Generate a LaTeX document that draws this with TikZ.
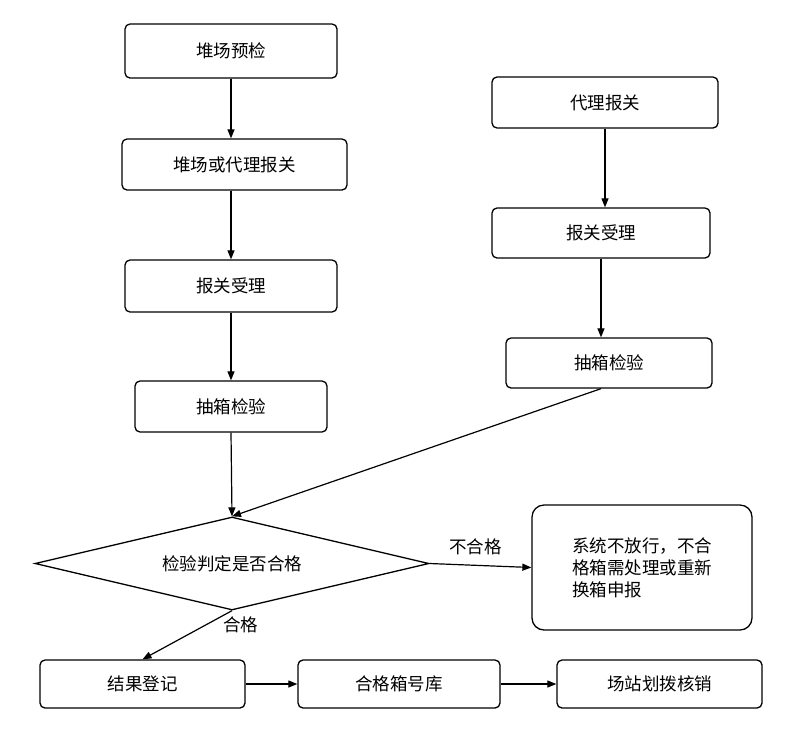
\documentclass[tikz,border=0pt]{standalone}
\usepackage{fontspec}
\newfontfamily\cjk{Noto Sans CJK SC}
\usetikzlibrary{shapes.geometric,arrows.meta}
\begin{document}
\begin{tikzpicture}[x=1pt,y=-1pt,
  box/.style={draw,line width=1.3pt,rounded corners=5pt,inner sep=0pt,font=\cjk\fontsize{17.5}{22}\selectfont},
  arr/.style={-{Triangle[length=9pt,width=7pt]},line width=1.2pt},
  lbl/.style={font=\cjk\fontsize{17.5}{22}\selectfont}]
\useasboundingbox (0,0) rectangle (799,748);
\node[box,minimum width=212,minimum height=54] (a1) at (231,51) {堆场预检};
\node[box,minimum width=225,minimum height=51] (a2) at (234.5,164.5) {堆场或代理报关};
\node[box,minimum width=212,minimum height=52] (a3) at (231,286) {报关受理};
\node[box,minimum width=192,minimum height=51] (a4) at (231,406.5) {抽箱检验};
\node[box,minimum width=226,minimum height=51] (b1) at (605,102.5) {代理报关};
\node[box,minimum width=218,minimum height=50] (b2) at (601,233) {报关受理};
\node[box,minimum width=206,minimum height=50] (b3) at (609,363) {抽箱检验};
\node[draw,line width=1.3pt,diamond,aspect=4.24,minimum width=394,minimum height=93,inner sep=0pt,font=\cjk\fontsize{17.5}{22}\selectfont] (d) at (232,563.5) {检验判定是否合格};
\node[box,rounded corners=12pt,minimum width=220,minimum height=125,align=left] (r) at (642,567.5) {系统不放行，不合\\格箱需处理或重新\\换箱申报};
\node[box,minimum width=205,minimum height=48] (c1) at (142.5,684) {结果登记};
\node[box,minimum width=202,minimum height=48] (c2) at (399,684) {合格箱号库};
\node[box,minimum width=205,minimum height=48] (c3) at (659.5,684) {场站划拨核销};
\draw[arr] (a1.south) -- (a1.south |- a2.north);
\draw[arr] (a2.south -| a3) -- (a3);
\draw[arr] (a3) -- (a4);
\draw[arr] (a4.south) -- (d.north);
\draw[arr] (b1.south) -- (b1.south |- b2.north);
\draw[arr] (b2.south) -- (b2.south |- b3.north);
\draw[arr] (b3.south -| b2.south) -- (d.north);
\draw[arr] (d.east) -- (r.west) node[lbl,pos=0.45,above=6pt] {不合格};
\draw[arr] (d.south) -- (c1.north) node[lbl,pos=0.3,right=14pt] {合格};
\draw[arr] (c1) -- (c2);
\draw[arr] (c2) -- (c3);
\end{tikzpicture}
\end{document}
